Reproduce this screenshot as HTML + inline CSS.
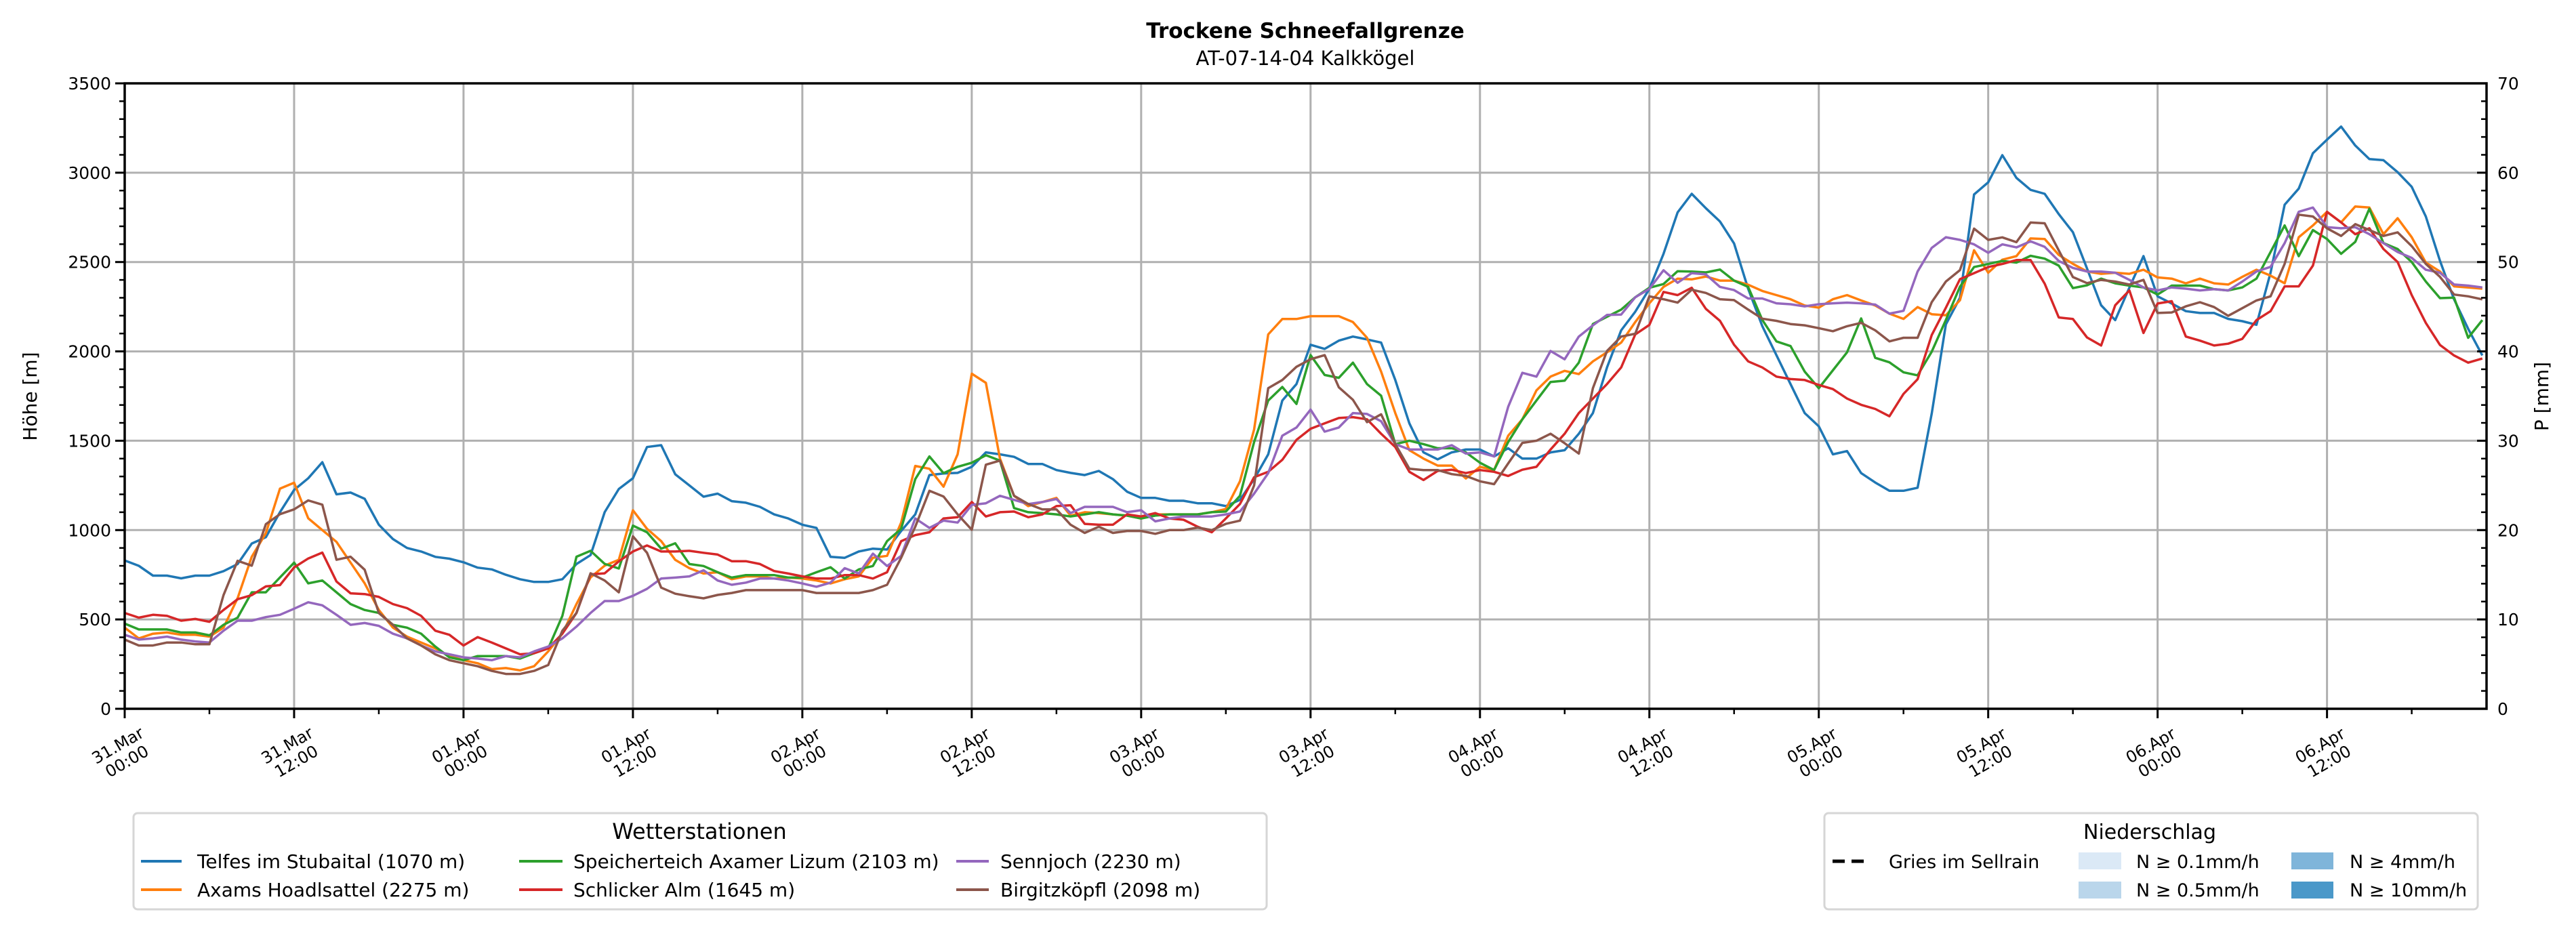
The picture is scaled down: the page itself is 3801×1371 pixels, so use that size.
<!DOCTYPE html>
<html><head><meta charset="utf-8"><title>Trockene Schneefallgrenze</title>
<style>
html,body{margin:0;padding:0;background:#fff;}
svg{display:block;font-family:"DejaVu Sans","Liberation Sans",sans-serif;}
</style></head>
<body>
<svg id="chart" xmlns="http://www.w3.org/2000/svg" width="3801" height="1371" viewBox="0 0 3801 1371">
<rect x="0" y="0" width="3801" height="1371" fill="#fff"/>
<text x="1926" y="56" text-anchor="middle" font-size="31" font-weight="bold">Trockene Schneefallgrenze</text>
<text x="1926" y="96" text-anchor="middle" font-size="29">AT-07-14-04 Kalkkögel</text>
<g id="grid"></g>
<g id="series"></g>
<g id="axes"></g>
<text x="0" y="0" transform="translate(54,585) rotate(-90)" text-anchor="middle" font-size="28">Höhe [m]</text>
<text x="0" y="0" transform="translate(3760,585) rotate(-90)" text-anchor="middle" font-size="28">P [mm]</text>

<g>
<rect x="197" y="1200" width="1672" height="142" rx="6" fill="#fff" stroke="#d6d6d6" stroke-width="3"/>
<text x="1032" y="1238" text-anchor="middle" font-size="32">Wetterstationen</text>
<g font-size="28">
<line x1="208" y1="1271" x2="268" y2="1271" stroke="#1f77b4" stroke-width="4"/>
<text x="291" y="1281">Telfes im Stubaital (1070 m)</text>
<line x1="208" y1="1313" x2="268" y2="1313" stroke="#ff7f0e" stroke-width="4"/>
<text x="291" y="1323">Axams Hoadlsattel (2275 m)</text>
<line x1="766" y1="1271" x2="830" y2="1271" stroke="#2ca02c" stroke-width="4"/>
<text x="846" y="1281">Speicherteich Axamer Lizum (2103 m)</text>
<line x1="766" y1="1313" x2="830" y2="1313" stroke="#d62728" stroke-width="4"/>
<text x="846" y="1323">Schlicker Alm (1645 m)</text>
<line x1="1411" y1="1271" x2="1459" y2="1271" stroke="#9467bd" stroke-width="4"/>
<text x="1476" y="1281">Sennjoch (2230 m)</text>
<line x1="1411" y1="1313" x2="1459" y2="1313" stroke="#8c564b" stroke-width="4"/>
<text x="1476" y="1323">Birgitzköpfl (2098 m)</text>
</g></g>

<g>
<rect x="2692" y="1200" width="964" height="142" rx="6" fill="#fff" stroke="#d6d6d6" stroke-width="3"/>
<text x="3172" y="1238" text-anchor="middle" font-size="30">Niederschlag</text>
<g font-size="27">
<line x1="2704" y1="1271" x2="2760" y2="1271" stroke="#000" stroke-width="5" stroke-dasharray="18,10"/>
<text x="2787" y="1281">Gries im Sellrain</text>
<rect x="3067" y="1258" width="63" height="25" fill="#dbe9f6"/>
<text x="3152" y="1281">N ≥ 0.1mm/h</text>
<rect x="3067" y="1301" width="63" height="25" fill="#bad6eb"/>
<text x="3152" y="1323">N ≥ 0.5mm/h</text>
<rect x="3381" y="1258" width="62" height="25" fill="#7fb5da"/>
<text x="3467" y="1281">N ≥ 4mm/h</text>
<rect x="3381" y="1301" width="62" height="25" fill="#4a98c9"/>
<text x="3467" y="1323">N ≥ 10mm/h</text>
</g></g>
</svg>
<script>
const xTickLabels = ["31.Mar|00:00","31.Mar|12:00","01.Apr|00:00","01.Apr|12:00","02.Apr|00:00","02.Apr|12:00","03.Apr|00:00","03.Apr|12:00","04.Apr|00:00","04.Apr|12:00","05.Apr|00:00","05.Apr|12:00","06.Apr|00:00","06.Apr|12:00"];
const yTicks = [0,500,1000,1500,2000,2500,3000,3500];
const y2Ticks = [0,10,20,30,40,50,60,70];
const stationNames = ["Telfes im Stubaital","Axams Hoadlsattel","Speicherteich Axamer Lizum","Schlicker Alm","Sennjoch","Birgitzköpfl"];
const telfes = [830,800,745,745,730,745,745,770,810,925,960,1100,1225,1290,1380,1200,1210,1175,1030,950,900,880,850,840,820,790,780,750,725,710,710,725,810,860,1100,1230,1290,1465,1475,1312,1250,1187,1204,1162,1153,1130,1088,1065,1030,1012,850,845,880,896,891,995,1088,1308,1317,1320,1354,1435,1424,1410,1370,1370,1336,1320,1308,1331,1285,1215,1180,1180,1164,1164,1150,1150,1134,1169,1285,1424,1725,1817,2037,2014,2060,2083,2067,2049,1840,1597,1435,1396,1435,1451,1451,1412,1458,1400,1400,1435,1447,1539,1655,1910,2118,2222,2350,2546,2778,2882,2801,2727,2604,2350,2141,1979,1817,1655,1581,1424,1442,1319,1266,1220,1220,1237,1651,2151,2300,2878,2946,3098,2971,2904,2882,2768,2667,2464,2258,2175,2357,2533,2308,2268,2225,2215,2215,2182,2169,2149,2440,2821,2911,3109,3185,3258,3152,3076,3070,3003,2921,2755,2507,2291,2126,1977];
const axams = [454,394,420,427,414,414,404,454,619,851,983,1232,1265,1066,1000,934,818,702,553,454,404,371,338,295,272,255,222,228,215,238,321,420,586,735,801,834,1111,1007,938,833,787,757,764,725,741,741,729,734,729,718,701,725,741,845,856,1042,1359,1343,1243,1424,1875,1824,1400,1192,1134,1157,1180,1081,1100,1095,1088,1081,1065,1088,1088,1088,1088,1100,1118,1273,1563,2095,2181,2181,2197,2197,2197,2164,2076,1887,1655,1447,1400,1361,1361,1289,1354,1336,1528,1620,1782,1859,1891,1873,1944,1995,2049,2164,2269,2361,2407,2403,2419,2396,2396,2373,2338,2315,2292,2257,2245,2292,2315,2285,2257,2211,2182,2248,2208,2202,2286,2566,2440,2513,2533,2632,2629,2540,2490,2447,2434,2440,2434,2457,2414,2407,2381,2407,2381,2374,2417,2457,2424,2381,2639,2705,2781,2722,2811,2805,2656,2745,2639,2497,2447,2364,2358,2351];
const speicherteich = [477,444,444,444,427,427,411,470,510,652,652,735,818,702,718,652,586,553,536,470,454,420,348,288,272,295,295,295,281,311,338,520,851,884,811,785,1025,988,896,926,810,799,764,734,748,748,748,734,734,764,792,729,780,799,938,1007,1285,1412,1319,1354,1377,1419,1389,1123,1100,1095,1088,1076,1088,1100,1088,1081,1065,1081,1088,1088,1088,1100,1104,1192,1493,1725,1801,1706,1979,1868,1852,1937,1817,1752,1481,1500,1481,1458,1458,1435,1377,1336,1493,1620,1725,1829,1836,1937,2153,2194,2234,2303,2356,2377,2449,2447,2442,2458,2396,2361,2176,2056,2030,1887,1794,1894,1995,2184,1964,1939,1883,1866,1998,2176,2362,2472,2489,2506,2497,2535,2519,2480,2354,2370,2407,2381,2368,2358,2318,2368,2368,2368,2348,2341,2358,2407,2556,2705,2533,2679,2629,2546,2613,2798,2606,2573,2500,2391,2298,2301,2076,2175];
const schlicker = [536,510,526,520,493,503,487,553,613,636,685,692,791,841,874,712,646,642,626,586,563,520,437,414,354,401,371,338,305,311,338,420,536,752,758,825,880,914,880,880,884,873,863,826,826,810,771,757,741,729,729,748,748,729,764,938,972,988,1065,1072,1157,1076,1100,1104,1072,1088,1134,1139,1035,1030,1030,1088,1076,1095,1065,1058,1019,988,1065,1146,1296,1326,1393,1505,1567,1597,1627,1632,1620,1539,1465,1326,1280,1331,1338,1319,1336,1326,1303,1338,1354,1451,1539,1655,1736,1817,1910,2095,2148,2333,2315,2356,2238,2171,2037,1944,1910,1859,1845,1840,1812,1789,1736,1701,1678,1637,1762,1844,2091,2244,2404,2438,2472,2489,2511,2511,2379,2190,2181,2078,2033,2258,2341,2103,2268,2281,2083,2060,2033,2043,2070,2175,2225,2364,2364,2480,2781,2722,2656,2689,2573,2500,2315,2159,2036,1977,1937,1960];
const sennjoch = [414,387,394,404,387,377,371,437,493,493,513,526,560,596,579,526,470,480,464,420,394,354,321,305,288,281,272,295,288,321,348,394,460,536,603,603,632,671,729,734,741,775,718,694,706,729,729,718,701,683,706,787,757,868,799,856,1065,1012,1053,1042,1141,1150,1192,1169,1146,1157,1174,1095,1130,1130,1130,1100,1111,1049,1065,1076,1076,1076,1088,1104,1204,1319,1528,1574,1674,1551,1574,1655,1650,1609,1481,1451,1451,1451,1475,1428,1435,1412,1690,1880,1859,2002,1956,2083,2146,2204,2206,2303,2350,2454,2384,2438,2431,2361,2343,2296,2296,2269,2264,2252,2264,2269,2273,2269,2262,2211,2227,2447,2579,2639,2624,2599,2552,2599,2582,2616,2585,2506,2467,2447,2447,2440,2400,2358,2341,2358,2351,2341,2348,2341,2391,2447,2473,2606,2781,2805,2695,2689,2695,2656,2606,2556,2523,2457,2440,2374,2368,2358];
const birgitz = [387,354,354,371,371,361,361,636,828,801,1033,1089,1116,1166,1142,834,851,778,536,470,394,354,305,272,255,238,212,195,195,212,245,437,536,758,718,652,965,873,678,644,630,618,637,648,664,664,664,664,664,648,648,648,648,664,694,845,1019,1220,1188,1088,1002,1366,1389,1192,1146,1116,1116,1030,984,1019,984,995,995,979,1000,1000,1014,1000,1035,1053,1250,1794,1840,1914,1956,1979,1799,1729,1604,1648,1481,1343,1336,1336,1313,1303,1273,1257,1373,1488,1500,1539,1486,1428,1794,2002,2083,2099,2308,2292,2273,2345,2327,2292,2287,2234,2183,2171,2153,2146,2130,2113,2141,2160,2118,2056,2076,2076,2275,2391,2455,2687,2624,2638,2611,2721,2717,2565,2416,2382,2400,2391,2374,2400,2215,2218,2252,2275,2248,2199,2242,2285,2308,2490,2765,2755,2689,2646,2712,2679,2646,2666,2589,2490,2417,2318,2308,2291];

const NS = "http://www.w3.org/2000/svg";
const L = 184, R = 3669, T = 123, B = 1046;
const HMAX = 167.3, YMAX = 3500, Y2MAX = 70;
function xScale(h){ return L + h * (R - L) / HMAX; }
function yScale(v){ return B - v * (B - T) / YMAX; }
function y2Scale(v){ return B - v * (B - T) / Y2MAX; }
function mk(tag, attrs, parent){ const e = document.createElementNS(NS, tag); for (const k in attrs) e.setAttribute(k, attrs[k]); parent.appendChild(e); return e; }

const grid = document.getElementById('grid');
const axes = document.getElementById('axes');
const seriesG = document.getElementById('series');

xTickLabels.forEach((lab, i) => {
  const x = xScale(i * 12);
  const gl = mk('line', {x1:x, y1:T, x2:x, y2:B, stroke:'#b0b0b0', 'stroke-width':3}, grid);
  
  
  const tk = mk('line', {x1:x, y1:B, x2:x, y2:B+14, stroke:'#000', 'stroke-width':3}, axes);
  
  
  const parts = lab.split('|');
  const g = mk('g', {transform:'translate(' + (x + 22) + ',1068) rotate(-30)', 'font-size':24}, axes);
  
  
  const t1 = mk('text', {x:-44, y:20, 'text-anchor':'middle'}, g); t1.textContent = parts[0];
  const t2 = mk('text', {x:-44, y:47, 'text-anchor':'middle'}, g); t2.textContent = parts[1];
});
for (let h = 6; h < HMAX; h += 12) {
  const x = xScale(h);
  const mt = mk('line', {x1:x, y1:B, x2:x, y2:B+8, stroke:'#000', 'stroke-width':2.5}, axes);
  
  
}
yTicks.forEach(v => {
  const y = yScale(v);
  const gl = mk('line', {x1:L, y1:y, x2:R, y2:y, stroke:'#b0b0b0', 'stroke-width':3}, grid);
  
  
  const tk = mk('line', {x1:L-14, y1:y, x2:L, y2:y, stroke:'#000', 'stroke-width':3}, axes);
  
  
  const tl = mk('text', {x:L-20, y:y+9, 'text-anchor':'end', 'font-size':25}, axes);
  
  
  tl.textContent = v;
});
for (let v = 100; v < YMAX; v += 100) {
  if (v % 500 === 0) continue;
  const y = yScale(v);
  const mt = mk('line', {x1:L-8, y1:y, x2:L, y2:y, stroke:'#000', 'stroke-width':2.5}, axes);
  
  
}
y2Ticks.forEach(v => {
  const y = y2Scale(v);
  const tk = mk('line', {x1:R-14, y1:y, x2:R, y2:y, stroke:'#000', 'stroke-width':3}, axes);
  
  
  const tl = mk('text', {x:R+16, y:y+9, 'text-anchor':'start', 'font-size':25}, axes);
  
  
  tl.textContent = v;
});
for (let v = 2; v < Y2MAX; v += 2) {
  if (v % 10 === 0) continue;
  const y = y2Scale(v);
  const mt = mk('line', {x1:R-8, y1:y, x2:R, y2:y, stroke:'#000', 'stroke-width':2.5}, axes);
  
  
}
const frame = mk('rect', {x:L, y:T, width:R-L, height:B-T, fill:'none', stroke:'#000', 'stroke-width':3.5}, axes);



const allSeries = [telfes, axams, speicherteich, schlicker, sennjoch, birgitz];
const colors = ['#1f77b4','#ff7f0e','#2ca02c','#d62728','#9467bd','#8c564b'];
const keys = ['telfes','axams','speicherteich','schlicker','sennjoch','birgitzkoepfl'];
allSeries.forEach((arr, si) => {
  const d = arr.map((v, i) => (i ? 'L' : 'M') + xScale(i).toFixed(1) + ',' + yScale(v).toFixed(1)).join(' ');
  const p = mk('path', {d:d, fill:'none', stroke:colors[si], 'stroke-width':3.5, 'stroke-linejoin':'round'}, seriesG);
  
  
});
</script>
</body></html>
